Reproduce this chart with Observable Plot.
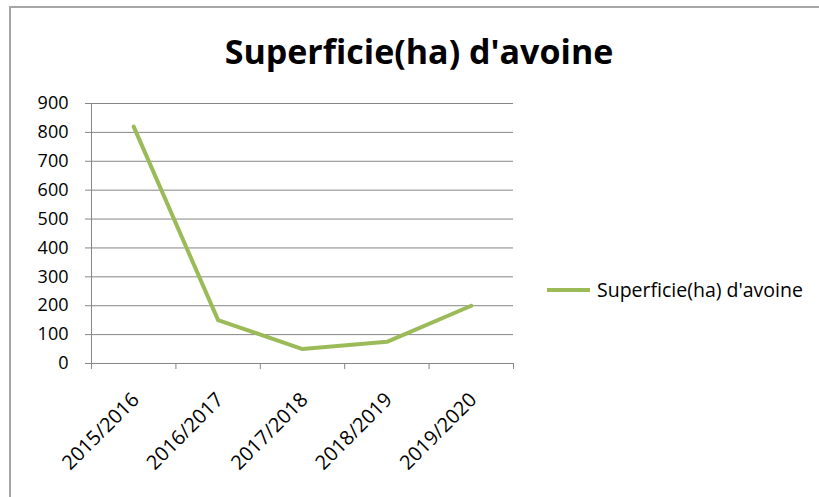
<!DOCTYPE html>
<html>
<head>
<meta charset="utf-8">
<script src="https://cdn.jsdelivr.net/npm/d3@7"></script>
<script src="https://cdn.jsdelivr.net/npm/@observablehq/plot@0.6"></script>
<style>
  html, body { margin: 0; padding: 0; background: #fff; }
  #wrap { position: relative; width: 819px; height: 497px; overflow: hidden; font-family: "Open Sans", sans-serif; }
  #frame { position: absolute; left: 9px; top: 6px; width: 900px; height: 600px; border-top: 2px solid #a6a6a6; border-left: 2px solid #a6a6a6; }
  #title { position: absolute; left: 0; width: 838px; top: 27px; text-align: center; font-weight: 700; font-size: 34px; line-height: 48px; color: #000; }
  #legend { position: absolute; left: 547px; top: 276px; display: flex; align-items: center; font-size: 19.5px; line-height: 28px; color: #000; }
  #legend .sw { width: 43px; height: 4px; background: #9bbb59; margin-right: 7px; }
  #chart { position: absolute; left: 0; top: 0; }
</style>
</head>
<body>
<div id="wrap">
  <div id="chart"></div>
  <div id="frame"></div>
  <div id="title">Superficie(ha) d'avoine</div>
  <div id="legend"><div class="sw"></div><span>Superficie(ha) d'avoine</span></div>
</div>
<script>
const categories = ["2015/2016", "2016/2017", "2017/2018", "2018/2019", "2019/2020"];
const values = [820, 150, 50, 75, 200];
const yTicks = [0, 100, 200, 300, 400, 500, 600, 700, 800, 900];
const seriesName = "Superficie(ha) d'avoine";

const data = categories.map((c, i) => ({ i: i + 0.5, cat: c, v: values[i] }));
const boundaries = d3.range(categories.length + 1);
const grid = "#868686";

const chart = Plot.plot({
  width: 819,
  height: 497,
  marginLeft: 91,
  marginRight: 306,
  marginTop: 103,
  marginBottom: 134,
  style: { fontFamily: "'Open Sans', sans-serif", background: "transparent" },
  x: { type: "linear", domain: [0, categories.length], axis: null },
  y: { domain: [0, 900], axis: null },
  marks: [
    Plot.ruleY(yTicks, { stroke: grid, strokeWidth: 1 }),
    Plot.axisY({ ticks: yTicks, tickSize: 6, tickPadding: 17, stroke: grid, fill: "#000", fontSize: 18, label: null, tickFormat: d => String(d) }),
    Plot.ruleX([0], { stroke: grid }),
    Plot.axisX({ ticks: boundaries, tickSize: 6, tickFormat: () => "", label: null, stroke: grid }),
    Plot.text(data, { x: "i", y: 0, text: "cat", rotate: -45, textAnchor: "end", dx: 2, dy: 33, fontSize: 20, fill: "#000" }),
    Plot.line(data, { x: "i", y: "v", stroke: "#9bbb59", strokeWidth: 4, strokeLinejoin: "round", strokeLinecap: "round" })
  ]
});
document.getElementById("chart").appendChild(chart);
</script>
</body>
</html>
